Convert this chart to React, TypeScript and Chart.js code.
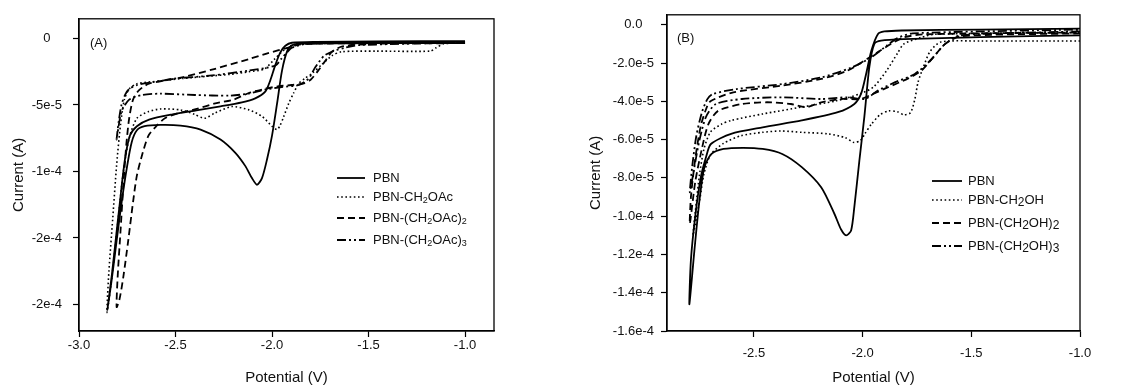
import React, { useEffect, useRef } from "react";
import { Chart, registerables } from "chart.js";
Chart.register(...registerables);

// ---------- Panel A (current in units of 1e-5 A) ----------
const A_X_TICKS = [-3.0, -2.5, -2.0, -1.5, -1.0];
const A_X_LABELS = ["-3.0", "-2.5", "-2.0", "-1.5", "-1.0"];
const A_Y_TICKS = [0, -5, -10, -15, -20];
const A_Y_LABELS = ["0", "-5e-5", "-1e-4", "-2e-4", "-2e-4"];
const A_LEGEND = ["PBN", "PBN-CH_2OAc", "PBN-(CH_2OAc)_2", "PBN-(CH_2OAc)_3"];

const A_PBN_X = [-1.0, -1.46, -1.77, -1.86, -1.895, -1.92, -1.948, -1.974, -2.0, -2.026, -2.052, -2.078, -2.104, -2.138, -2.19, -2.267, -2.37, -2.474, -2.578, -2.66, -2.7, -2.727, -2.753, -2.779, -2.805, -2.831, -2.853,
  -2.845, -2.83, -2.814, -2.788, -2.762, -2.736, -2.7, -2.637, -2.515, -2.392, -2.267, -2.156, -2.087, -2.035, -2.009, -1.983, -1.957, -1.931, -1.897, -1.776, -1.46, -1.0];
const A_PBN_Y = [-0.35, -0.35, -0.37, -0.4, -0.5, -0.9, -2.4, -4.9, -7.3, -9.1, -10.5, -11.0, -10.5, -9.6, -8.6, -7.6, -6.85, -6.55, -6.5, -6.6, -6.9, -7.8, -9.8, -12.3, -15.2, -18.2, -20.4,
  -19.5, -17.8, -15.7, -12.3, -9.1, -7.3, -6.6, -6.1, -5.7, -5.4, -5.1, -4.8, -4.5, -4.0, -3.15, -2.0, -1.05, -0.55, -0.32, -0.25, -0.22, -0.2];

const A_CH2OAC_X = [-1.0, -1.11, -1.15, -1.18, -1.46, -1.64, -1.69, -1.745, -1.79, -1.83, -1.862, -1.888, -1.914, -1.94, -1.96, -1.975, -2.0, -2.052, -2.12, -2.207, -2.295, -2.35, -2.402, -2.474, -2.578, -2.64, -2.7, -2.74, -2.77, -2.8, -2.83, -2.855,
  -2.845, -2.825, -2.805, -2.785, -2.765, -2.74, -2.7, -2.58, -2.46, -2.34, -2.22, -2.12, -2.04, -1.99, -1.94, -1.89, -1.72, -1.0];
const A_CH2OAC_Y = [-0.35, -0.4, -0.7, -0.95, -0.95, -1.0, -1.3, -2.0, -2.6, -3.0, -3.4, -4.1, -4.9, -5.9, -6.6, -6.85, -6.6, -5.86, -5.37, -5.12, -5.6, -6.0, -5.7, -5.37, -5.3, -5.5, -6.0, -7.5, -10.0, -14.0, -18.0, -20.6,
  -17.5, -13.5, -9.5, -6.5, -4.6, -3.8, -3.4, -3.2, -3.0, -2.85, -2.7, -2.5, -2.3, -1.6, -0.9, -0.5, -0.35, -0.3];

const A_CH2OAC2_X = [-1.0, -1.46, -1.635, -1.69, -1.72, -1.76, -1.8, -1.84, -1.9, -1.97, -2.04, -2.12, -2.2, -2.3, -2.39, -2.48, -2.555, -2.6, -2.64, -2.67, -2.7, -2.72, -2.745, -2.77, -2.79, -2.805,
  -2.8, -2.785, -2.77, -2.755, -2.74, -2.72, -2.69, -2.637, -2.46, -2.3, -2.12, -2.02, -1.92, -1.87, -1.82, -1.0];
const A_CH2OAC2_Y = [-0.35, -0.4, -0.6, -1.0, -1.6, -2.4, -3.1, -3.4, -3.5, -3.6, -3.8, -4.1, -4.6, -4.9, -5.3, -5.6, -6.0, -6.6, -7.3, -8.6, -10.3, -12.3, -15.2, -17.9, -19.6, -20.2,
  -18.0, -14.5, -11.0, -8.0, -6.0, -4.6, -3.9, -3.4, -2.9, -2.3, -1.55, -1.1, -0.7, -0.5, -0.4, -0.3];

const A_CH2OAC3_X = [-1.0, -1.55, -1.62, -1.68, -1.73, -1.776, -1.81, -1.86, -1.95, -2.035, -2.12, -2.22, -2.4, -2.58, -2.675, -2.74, -2.78, -2.805,
  -2.795, -2.78, -2.76, -2.74, -2.7, -2.58, -2.515, -2.31, -2.12, -1.983, -1.95, -1.92, -1.897, -1.82, -1.0];
const A_CH2OAC3_Y = [-0.3, -0.5, -0.69, -0.94, -1.3, -2.17, -3.0, -3.5, -3.65, -3.84, -4.14, -4.3, -4.25, -4.15, -4.25, -4.6, -5.5, -7.6,
  -6.3, -5.0, -4.2, -3.8, -3.5, -3.2, -3.03, -2.78, -2.41, -2.04, -1.5, -1.0, -0.69, -0.4, -0.25];

// ---------- Panel B ----------
const B_X_TICKS = [-2.5, -2.0, -1.5, -1.0];
const B_X_LABELS = ["-2.5", "-2.0", "-1.5", "-1.0"];
const B_Y_TICKS = [0, -2, -4, -6, -8, -10, -12, -14, -16];
const B_Y_LABELS = ["0.0", "-2.0e-5", "-4.0e-5", "-6.0e-5", "-8.0e-5", "-1.0e-4", "-1.2e-4", "-1.4e-4", "-1.6e-4"];
const B_LEGEND = ["PBN", "PBN-CH_2OH", "PBN-(CH_2OH)_2", "PBN-(CH_2OH)_3"];

const B_PBN_X = [-1.0, -1.46, -1.81, -1.915, -1.946, -1.969, -1.992, -2.015, -2.038, -2.053, -2.076, -2.099, -2.129, -2.19, -2.28, -2.37, -2.46, -2.55, -2.64, -2.695, -2.728, -2.751, -2.774, -2.797,
  -2.79, -2.77, -2.745, -2.72, -2.698, -2.605, -2.46, -2.28, -2.114, -2.038, -2.007, -1.984, -1.96, -1.93, -1.9, -1.82, -1.46, -1.0];
const B_PBN_Y = [-0.55, -0.65, -0.75, -0.83, -1.0, -2.2, -4.8, -7.1, -9.5, -10.75, -11.0, -10.7, -9.9, -8.5, -7.44, -6.75, -6.49, -6.43, -6.49, -6.75, -7.44, -9.2, -11.8, -14.6,
  -12.3, -10.0, -8.0, -6.9, -6.23, -5.7, -5.36, -5.0, -4.57, -4.14, -3.6, -2.57, -1.36, -0.49, -0.35, -0.3, -0.25, -0.2];

const B_CH2OH_X = [-1.0, -1.46, -1.64, -1.69, -1.72, -1.745, -1.76, -1.78, -1.81, -1.84, -1.88, -1.92, -1.96, -1.99, -2.01, -2.04, -2.08, -2.16, -2.28, -2.375, -2.46, -2.56, -2.64, -2.7, -2.73, -2.75, -2.765, -2.78,
  -2.77, -2.75, -2.73, -2.7, -2.65, -2.605, -2.46, -2.28, -2.12, -2.01, -1.95, -1.89, -1.84, -1.81, -1.73, -1.67, -1.0];
const B_CH2OH_Y = [-0.85, -0.85, -0.9, -1.4, -2.2, -3.0, -3.9, -4.6, -4.7, -4.55, -4.5, -4.7, -5.2, -5.7, -6.05, -6.15, -5.9, -5.7, -5.62, -5.55, -5.62, -5.8, -6.2, -6.8, -7.8, -9.2, -10.1, -11.0,
  -9.8, -7.8, -6.5, -5.6, -5.2, -5.0, -4.66, -4.3, -3.97, -3.6, -3.25, -2.4, -1.5, -1.0, -0.66, -0.5, -0.4];

const B_CH2OH2_X = [-1.0, -1.55, -1.62, -1.675, -1.73, -1.79, -1.89, -1.95, -2.01, -2.1, -2.19, -2.26, -2.33, -2.44, -2.555, -2.665, -2.71, -2.74, -2.77, -2.795,
  -2.79, -2.77, -2.745, -2.72, -2.7, -2.595, -2.37, -2.19, -2.07, -1.98, -1.92, -1.87, -1.81, -1.72, -1.0];
const B_CH2OH2_Y = [-0.45, -0.6, -1.0, -1.7, -2.4, -2.8, -3.3, -3.6, -3.88, -3.88, -4.05, -4.31, -4.14, -4.05, -4.14, -4.5, -5.2, -6.5, -8.2, -10.4,
  -9.0, -7.0, -5.3, -4.4, -4.0, -3.53, -3.18, -2.83, -2.4, -1.79, -1.36, -1.0, -0.66, -0.5, -0.4];

const B_CH2OH3_X = [-1.0, -1.55, -1.62, -1.69, -1.76, -1.85, -1.93, -1.99, -2.07, -2.19, -2.37, -2.555, -2.675, -2.72, -2.75, -2.775, -2.795,
  -2.785, -2.765, -2.74, -2.715, -2.69, -2.58, -2.37, -2.19, -2.05, -1.96, -1.89, -1.84, -1.77, -1.0];
const B_CH2OH3_Y = [-0.35, -0.55, -1.0, -1.88, -2.57, -3.0, -3.44, -3.88, -3.79, -3.88, -3.79, -3.88, -4.14, -4.8, -6.0, -7.5, -8.75,
  -7.5, -5.8, -4.6, -3.9, -3.62, -3.36, -3.1, -2.75, -2.23, -1.7, -1.1, -0.7, -0.45, -0.25];

const FONT = "'Liberation Sans', Arial, sans-serif";
const INK = "#111";
const STYLES = [
  { dash: [] as number[], width: 1.8 },
  { dash: [1.6, 2.6], width: 1.6 },
  { dash: [7, 4], width: 1.8 },
  { dash: [9, 3, 2, 3, 2, 3], width: 1.8 },
];

type Seg = { t: string; sub: boolean };
function parseLabel(s: string): Seg[] {
  const out: Seg[] = [];
  let buf = "";
  for (let i = 0; i < s.length; i++) {
    if (s[i] === "_" && i + 1 < s.length) {
      if (buf) out.push({ t: buf, sub: false });
      buf = "";
      out.push({ t: s[i + 1], sub: true });
      i++;
    } else buf += s[i];
  }
  if (buf) out.push({ t: buf, sub: false });
  return out;
}

const framePlugin = {
  id: "frame",
  afterDraw(chart: any) {
    const { ctx, chartArea } = chart;
    ctx.save();
    ctx.strokeStyle = "#000";
    ctx.lineWidth = 1.3;
    ctx.setLineDash([]);
    ctx.strokeRect(chartArea.left, chartArea.top, chartArea.right - chartArea.left, chartArea.bottom - chartArea.top);
    ctx.restore();
  },
};

function overlayPlugin(cfg: any) {
  return {
    id: "overlay",
    afterDraw(chart: any) {
      const ctx = chart.ctx;
      ctx.save();
      ctx.fillStyle = INK;
      ctx.strokeStyle = "#000";
      ctx.textBaseline = "middle";
      ctx.textAlign = "left";
      ctx.font = `13px ${FONT}`;
      ctx.fillText(cfg.panel, cfg.panelX, cfg.panelY);
      cfg.labels.forEach((lab: string, i: number) => {
        const y = cfg.ys[i];
        ctx.beginPath();
        ctx.setLineDash(STYLES[i].dash);
        ctx.lineWidth = STYLES[i].width;
        ctx.moveTo(cfg.x1, y);
        ctx.lineTo(cfg.x2, y);
        ctx.stroke();
        ctx.setLineDash([]);
        let x = cfg.tx;
        for (const s of parseLabel(lab)) {
          ctx.font = s.sub ? `${cfg.subSize}px ${FONT}` : `13px ${FONT}`;
          ctx.fillText(s.t, x, y + (s.sub ? cfg.subDy : 0));
          x += ctx.measureText(s.t).width;
        }
      });
      ctx.restore();
    },
  };
}

function labelFor(ticks: number[], labels: string[], v: number) {
  let best = 0;
  ticks.forEach((t, i) => {
    if (Math.abs(t - v) < Math.abs(ticks[best] - v)) best = i;
  });
  return labels[best];
}

function makeConfig(p: any) {
  return {
    type: "line",
    data: {
      datasets: p.series.map((s: any, i: number) => ({
        label: s.label,
        data: s.x.map((x: number, j: number) => ({ x, y: s.y[j] })),
        borderColor: "#000",
        borderWidth: STYLES[i].width,
        borderDash: STYLES[i].dash,
        pointRadius: 0,
        tension: 0.25,
        fill: false,
      })),
    },
    options: {
      animation: false,
      responsive: false,
      maintainAspectRatio: false,
      layout: { padding: p.padding },
      plugins: { legend: { display: false }, tooltip: { enabled: false } },
      scales: {
        x: {
          type: "linear",
          min: p.xMin,
          max: p.xMax,
          afterBuildTicks: (s: any) => {
            s.ticks = p.xTicks.map((v: number) => ({ value: v }));
          },
          ticks: {
            callback: (v: number) => labelFor(p.xTicks, p.xLabels, v),
            font: { family: FONT, size: 13 },
            color: INK,
            padding: p.xTickPad,
            maxRotation: 0,
            autoSkip: false,
          },
          grid: { drawOnChartArea: false, drawTicks: true, tickLength: 6, color: "#000", tickWidth: 1.2 },
          border: { display: true, color: "#000", width: 1.3 },
          title: { display: true, text: "Potential (V)", font: { family: FONT, size: 15 }, color: INK, padding: { top: 0, bottom: 0 } },
          afterFit: (s: any) => {
            s.height = p.xHeight;
          },
        },
        y: {
          type: "linear",
          min: p.yMin,
          max: p.yMax,
          afterBuildTicks: (s: any) => {
            s.ticks = p.yTicks.map((v: number) => ({ value: v }));
          },
          ticks: {
            callback: (v: number) => labelFor(p.yTicks, p.yLabels, v),
            font: { family: FONT, size: 13 },
            color: INK,
            padding: p.yTickPad,
            crossAlign: "center",
            autoSkip: false,
          },
          grid: { drawOnChartArea: false, drawTicks: true, tickLength: 6, color: "#000", tickWidth: 1.2 },
          border: { display: true, color: "#000", width: 1.3 },
          title: { display: true, text: "Current (A)", font: { family: FONT, size: 15 }, color: INK, padding: { top: p.yTitlePad, bottom: 0 } },
          afterFit: (s: any) => {
            s.width = p.yWidth;
          },
        },
      },
    },
    plugins: [framePlugin, overlayPlugin(p.overlay)],
  };
}

export default function App() {
  const refA = useRef<HTMLCanvasElement>(null);
  const refB = useRef<HTMLCanvasElement>(null);
  useEffect(() => {
    const cfgA = makeConfig({
      series: [
        { label: "PBN", x: A_PBN_X, y: A_PBN_Y },
        { label: "PBN-CH2OAc", x: A_CH2OAC_X, y: A_CH2OAC_Y },
        { label: "PBN-(CH2OAc)2", x: A_CH2OAC2_X, y: A_CH2OAC2_Y },
        { label: "PBN-(CH2OAc)3", x: A_CH2OAC3_X, y: A_CH2OAC3_Y },
      ],
      xMin: -3.0, xMax: -0.85, xTicks: A_X_TICKS, xLabels: A_X_LABELS,
      yMin: -22, yMax: 1.48, yTicks: A_Y_TICKS, yLabels: A_Y_LABELS,
      padding: { left: 0, right: 76, top: 14, bottom: 0 },
      yWidth: 79, xHeight: 56, xTickPad: 1, yTickPad: 11, yTitlePad: 10,
      overlay: { panel: "(A)", panelX: 90, panelY: 43, labels: A_LEGEND, ys: [178, 197, 218, 240], x1: 337, x2: 365, tx: 373, subSize: 9, subDy: 4 },
    });
    const cfgB = makeConfig({
      series: [
        { label: "PBN", x: B_PBN_X, y: B_PBN_Y },
        { label: "PBN-CH2OH", x: B_CH2OH_X, y: B_CH2OH_Y },
        { label: "PBN-(CH2OH)2", x: B_CH2OH2_X, y: B_CH2OH2_Y },
        { label: "PBN-(CH2OH)3", x: B_CH2OH3_X, y: B_CH2OH3_Y },
      ],
      xMin: -2.9, xMax: -1.0, xTicks: B_X_TICKS, xLabels: B_X_LABELS,
      yMin: -16, yMax: 0.52, yTicks: B_Y_TICKS, yLabels: B_Y_LABELS,
      padding: { left: 0, right: 61, top: 14, bottom: 0 },
      yWidth: 97, xHeight: 56, xTickPad: 9, yTickPad: 7, yTitlePad: 17,
      overlay: { panel: "(B)", panelX: 107, panelY: 38, labels: B_LEGEND, ys: [181, 200, 223, 246], x1: 362, x2: 392, tx: 398, subSize: 12, subDy: 3 },
    });
    const a = new Chart(refA.current as HTMLCanvasElement, cfgA as any);
    const b = new Chart(refB.current as HTMLCanvasElement, cfgB as any);
    return () => {
      a.destroy();
      b.destroy();
    };
  }, []);
  return (
    <div style={{ position: "absolute", left: 0, top: 0, width: 1141, height: 387, background: "#fff" }}>
      <canvas ref={refA} width={570} height={387} style={{ position: "absolute", left: 0, top: 0, width: 570, height: 387 }} />
      <canvas ref={refB} width={571} height={387} style={{ position: "absolute", left: 570, top: 0, width: 571, height: 387 }} />
    </div>
  );
}
